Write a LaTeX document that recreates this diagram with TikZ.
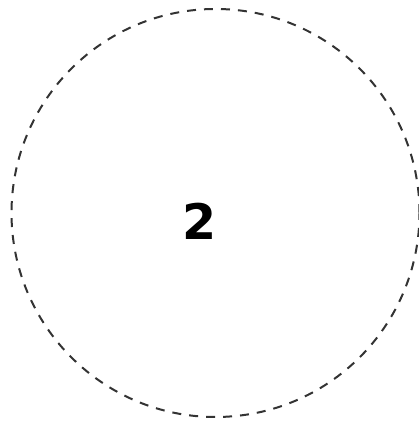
\documentclass[tikz,border=0pt]{standalone}
\usepackage{fontspec}
\newfontfamily\digitfont{DejaVu Sans}
\usepackage{tikz}
\usetikzlibrary{positioning}

\begin{document}
\begin{tikzpicture}[x=1pt,y=1pt]
  \useasboundingbox (0,0) rectangle (419,422);
  \node[circle,draw=black!80,line width=2pt,dash pattern=on 9pt off 8pt,
        minimum size=408pt,inner sep=0pt] (ring) at (215.5,209) {};
  \node[inner sep=0pt] (num) at (199.5,201) {\digitfont\bfseries\fontsize{49}{58}\selectfont 2};
\end{tikzpicture}
\end{document}
